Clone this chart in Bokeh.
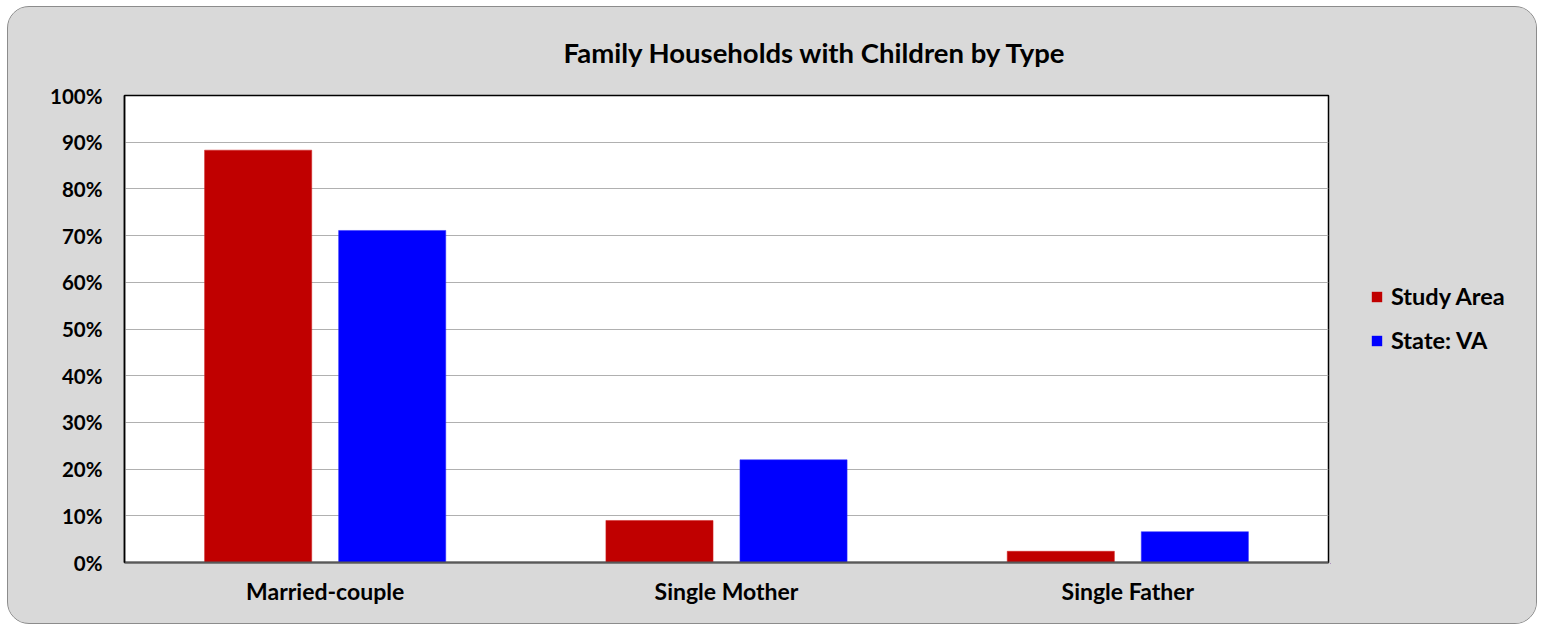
from bokeh.plotting import figure
from bokeh.layouts import row
from bokeh.models import ColumnDataSource, FixedTicker, NumeralTickFormatter, Legend, LegendItem, Title
from bokeh.transform import dodge
from bokeh.embed import file_html
from bokeh.resources import INLINE

categories = ["Married-couple", "Single Mother", "Single Father"]
study_area = [0.883, 0.090, 0.024]
state_va = [0.711, 0.220, 0.066]
series_names = ["Study Area", "State: VA"]
series_colors = ["#c00000", "#0000ff"]
y_ticks = [0, 0.1, 0.2, 0.3, 0.4, 0.5, 0.6, 0.7, 0.8, 0.9, 1.0]

FONT = "Lato"
GREY = "#d9d9d9"

src = ColumnDataSource(dict(cat=categories, study=study_area, state=state_va))

p = figure(x_range=categories, y_range=(0, 1), frame_width=1204, frame_height=467,
           output_backend="svg", toolbar_location=None,
           min_border_left=116, min_border_right=2, min_border_top=87, min_border_bottom=60)

p.border_fill_color = GREY
p.background_fill_color = "white"
p.outline_line_color = "black"
p.outline_line_width = 1.5
p.x_range.range_padding = 0

r1 = p.vbar(x=dodge("cat", -0.167, range=p.x_range), top="study", width=0.267, source=src,
            fill_color=series_colors[0], line_color="#d02020", line_width=0.5)
r2 = p.vbar(x=dodge("cat", 0.167, range=p.x_range), top="state", width=0.267, source=src,
            fill_color=series_colors[1], line_color="#3030ff", line_width=0.5)

p.title = Title(text="Family Households with Children by Type", align="left", offset=439,
                text_font=FONT, text_font_size="27.5px", text_font_style="bold",
                text_color="black", standoff=53)

p.yaxis.ticker = FixedTicker(ticks=y_ticks)
p.yaxis.formatter = NumeralTickFormatter(format="0%")
for ax in (p.xaxis, p.yaxis):
    ax.major_label_text_font = FONT
    ax.major_label_text_font_style = "bold"
    ax.major_label_text_color = "black"
    ax.major_tick_line_color = None
    ax.minor_tick_line_color = None
    ax.axis_line_color = "black"
    ax.axis_line_width = 1.5
p.yaxis.major_label_text_font_size = "20.5px"
p.xaxis.major_label_text_font_size = "23px"
p.yaxis.major_label_standoff = 16
p.xaxis.major_label_standoff = 8
p.xaxis.axis_line_color = "#595959"
p.xaxis.axis_line_width = 2

p.xgrid.grid_line_color = None
p.ygrid.grid_line_color = "#b0b0b0"
p.ygrid.grid_line_width = 1

# legend panel as a separate borderless figure (its renderers lie outside its view)
pl = figure(width=206, height=616, x_range=(5, 6), y_range=(5, 6),
            x_axis_type=None, y_axis_type=None, output_backend="svg", toolbar_location=None,
            min_border=0)
pl.border_fill_color = GREY
pl.background_fill_color = GREY
pl.outline_line_color = None
lr1 = pl.vbar(x="study", top="state", width=0.01, source=src,
              fill_color=series_colors[0], line_color=None)
lr2 = pl.vbar(x="study", top="state", width=0.01, source=src,
              fill_color=series_colors[1], line_color=None)

legend = Legend(items=[LegendItem(label=series_names[0], renderers=[lr1]),
                       LegendItem(label=series_names[1], renderers=[lr2])],
                location=(40, 209), orientation="vertical",
                background_fill_alpha=0, border_line_color=None,
                padding=0, margin=0, spacing=16,
                glyph_width=13, glyph_height=13, label_height=24,
                label_text_font=FONT, label_text_font_size="23.5px",
                label_text_color="black",
                label_text_font_style="bold", label_standoff=8)
pl.add_layout(legend, "center")

layout = row(p, pl, spacing=0)
layout.styles = {"border-radius": "22px", "border": "1px solid #8c8c8c", "overflow": "hidden",
                 "margin-left": "7px", "margin-top": "6px", "background-color": GREY}

open("out.html", "w").write(file_html(layout, INLINE))
